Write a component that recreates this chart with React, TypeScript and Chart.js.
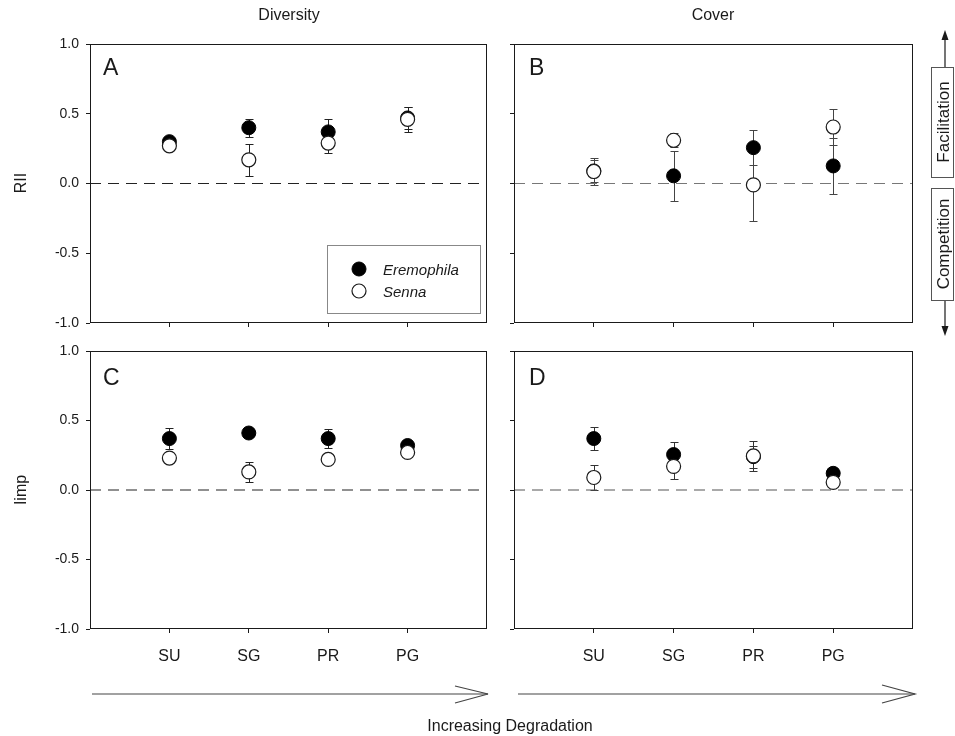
import React, { useEffect, useRef } from 'react';
import { Chart, registerables } from 'chart.js';
Chart.register(...registerables);

// ---------- data ----------
const categories = ['SU', 'SG', 'PR', 'PG'];
const yTickValues = [-1, -0.5, 0, 0.5, 1];

// Panel A: Diversity, RII
const divRiiEremophila = [0.30, 0.40, 0.37, 0.47];
const divRiiEremophilaSE = [0.02, 0.065, 0.09, 0.08];
const divRiiSenna = [0.27, 0.17, 0.29, 0.46];
const divRiiSennaSE = [0.02, 0.115, 0.07, 0.09];

// Panel B: Cover, RII
const covRiiEremophila = [0.09, 0.055, 0.257, 0.126];
const covRiiEremophilaSE = [0.08, 0.18, 0.125, 0.2];
const covRiiSenna = [0.086, 0.31, -0.01, 0.405];
const covRiiSennaSE = [0.1, 0.05, 0.26, 0.13];

// Panel C: Diversity, Iimp
const divIimpEremophila = [0.37, 0.41, 0.37, 0.32];
const divIimpEremophilaSE = [0.075, 0.02, 0.07, 0.02];
const divIimpSenna = [0.23, 0.13, 0.22, 0.27];
const divIimpSennaSE = [0.02, 0.075, 0.02, 0.02];

// Panel D: Cover, Iimp
const covIimpEremophila = [0.37, 0.255, 0.24, 0.12];
const covIimpEremophilaSE = [0.085, 0.09, 0.08, 0.02];
const covIimpSenna = [0.09, 0.17, 0.245, 0.055];
const covIimpSennaSE = [0.09, 0.09, 0.11, 0.02];

const FONT = 'Arial, "Liberation Sans", Helvetica, sans-serif';
const INK = '#1a1a1a';

const errorBarPlugin = {
  id: 'errorBars',
  beforeDatasetsDraw(chart: any) {
    const { ctx } = chart;
    const xs = chart.scales.x;
    const ys = chart.scales.y;
    ctx.save();
    chart.data.datasets.forEach((ds: any) => {
      const err = ds.errors;
      if (!err) return;
      ctx.strokeStyle = ds.errorColor || INK;
      ctx.lineWidth = 1;
      ds.data.forEach((p: any, i: number) => {
        const x = Math.round(xs.getPixelForValue(p.x)) + 0.5;
        const yT = Math.round(ys.getPixelForValue(p.y + err[i])) + 0.5;
        const yB = Math.round(ys.getPixelForValue(p.y - err[i])) + 0.5;
        ctx.beginPath();
        ctx.moveTo(x, yT);
        ctx.lineTo(x, yB);
        ctx.moveTo(x - 4, yT);
        ctx.lineTo(x + 4, yT);
        ctx.moveTo(x - 4, yB);
        ctx.lineTo(x + 4, yB);
        ctx.stroke();
      });
    });
    ctx.restore();
  },
};

const framePlugin = {
  id: 'frame',
  afterDraw(chart: any) {
    const { ctx, chartArea: a } = chart;
    ctx.save();
    ctx.strokeStyle = INK;
    ctx.lineWidth = 1;
    ctx.strokeRect(Math.round(a.left) + 0.5, Math.round(a.top) + 0.5, Math.round(a.right - a.left) - 1, Math.round(a.bottom - a.top) - 1);
    ctx.restore();
  },
};

type PanelProps = {
  areaLeft: number;
  areaTop: number;
  areaRight: number;
  areaBottom: number;
  showX: boolean;
  showY: boolean;
  erem: number[];
  eremSE: number[];
  senna: number[];
  sennaSE: number[];
  zeroColor: string;
  errColor: string;
};

const Y_W = 50;
const PAD_T = 22;
const PAD_R = 22;

function Panel(props: PanelProps) {
  const ref = useRef<HTMLCanvasElement>(null);
  const xH = props.showX ? 42 : 20;
  const left = props.areaLeft - Y_W;
  const top = props.areaTop - PAD_T;
  const width = props.areaRight - props.areaLeft + Y_W + PAD_R;
  const height = props.areaBottom - props.areaTop + PAD_T + xH;

  useEffect(() => {
    if (!ref.current) return;
    const toPts = (vals: number[]) => vals.map((v, i) => ({ x: i + 1, y: v }));
    const tickGrid = {
      display: true,
      drawOnChartArea: false,
      drawTicks: true,
      tickLength: 4,
      tickColor: INK,
      tickWidth: 1,
    };
    const chart = new Chart(ref.current, {
      type: 'scatter',
      data: {
        datasets: [
          {
            label: 'Senna',
            data: toPts(props.senna),
            errors: props.sennaSE,
            errorColor: props.errColor,
            pointRadius: 7,
            pointBackgroundColor: '#ffffff',
            pointBorderColor: INK,
            pointBorderWidth: 1.2,
            order: 0,
          } as any,
          {
            label: 'Eremophila',
            data: toPts(props.erem),
            errors: props.eremSE,
            errorColor: props.errColor,
            pointRadius: 7,
            pointBackgroundColor: '#000000',
            pointBorderColor: '#000000',
            pointBorderWidth: 1,
            order: 1,
          } as any,
          {
            label: 'zero',
            data: [
              { x: 0, y: 0 },
              { x: 5, y: 0 },
            ],
            showLine: true,
            borderColor: props.zeroColor,
            borderWidth: 1.2,
            borderDash: [11, 7],
            pointRadius: 0,
            order: 2,
          } as any,
        ],
      },
      options: {
        animation: false,
        responsive: false,
        devicePixelRatio: 1,
        events: [],
        layout: { padding: { top: PAD_T, right: PAD_R, left: 0, bottom: 0 } },
        plugins: { legend: { display: false }, tooltip: { enabled: false } },
        scales: {
          x: {
            type: 'linear',
            min: 0,
            max: 5,
            afterBuildTicks: (ax: any) => {
              ax.ticks = categories.map((_, i) => ({ value: i + 1 }));
            },
            afterFit: (s: any) => {
              s.height = xH;
            },
            grid: tickGrid,
            border: { display: false },
            ticks: {
              autoSkip: false,
              maxRotation: 0,
              padding: 14,
              color: INK,
              font: { size: 16, family: FONT },
              callback: (v: any) => (props.showX ? categories[Number(v) - 1] : ''),
            },
          },
          y: {
            type: 'linear',
            min: -1,
            max: 1,
            afterBuildTicks: (ax: any) => {
              ax.ticks = yTickValues.map((v) => ({ value: v }));
            },
            afterFit: (s: any) => {
              s.width = Y_W;
            },
            grid: tickGrid,
            border: { display: false },
            ticks: {
              padding: 7,
              color: INK,
              font: { size: 14, family: FONT },
              callback: (v: any) => (props.showY ? Number(v).toFixed(1) : ''),
            },
          },
        },
      } as any,
      plugins: [errorBarPlugin, framePlugin],
    });
    return () => chart.destroy();
  }, []);

  return (
    <canvas
      ref={ref}
      width={width}
      height={height}
      style={{ position: 'absolute', left, top, width, height }}
    />
  );
}

export default function App() {
  const txt = { fontFamily: FONT, fill: INK } as any;
  return (
    <div
      style={{
        position: 'fixed',
        left: 0,
        top: 0,
        width: 955,
        height: 736,
        background: '#ffffff',
        overflow: 'hidden',
      }}
    >
      <Panel areaLeft={90} areaTop={44} areaRight={487} areaBottom={323} showX={false} showY={true}
        erem={divRiiEremophila} eremSE={divRiiEremophilaSE} senna={divRiiSenna} sennaSE={divRiiSennaSE}
        zeroColor="#222222" errColor="#222222" />
      <Panel areaLeft={514} areaTop={44} areaRight={913} areaBottom={323} showX={false} showY={false}
        erem={covRiiEremophila} eremSE={covRiiEremophilaSE} senna={covRiiSenna} sennaSE={covRiiSennaSE}
        zeroColor="#777777" errColor="#444444" />
      <Panel areaLeft={90} areaTop={351} areaRight={487} areaBottom={629} showX={true} showY={true}
        erem={divIimpEremophila} eremSE={divIimpEremophilaSE} senna={divIimpSenna} sennaSE={divIimpSennaSE}
        zeroColor="#222222" errColor="#222222" />
      <Panel areaLeft={514} areaTop={351} areaRight={913} areaBottom={629} showX={true} showY={false}
        erem={covIimpEremophila} eremSE={covIimpEremophilaSE} senna={covIimpSenna} sennaSE={covIimpSennaSE}
        zeroColor="#555555" errColor="#333333" />

      <svg width={955} height={736} style={{ position: 'absolute', left: 0, top: 0, pointerEvents: 'none' }}>
        {/* column titles */}
        <text x={289} y={20} textAnchor="middle" fontSize={16} {...txt}>Diversity</text>
        <text x={713} y={20} textAnchor="middle" fontSize={16} {...txt}>Cover</text>

        {/* y-axis titles */}
        <text transform="translate(20,183) rotate(-90)" textAnchor="middle" dominantBaseline="central" fontSize={16} {...txt}>RII</text>
        <text transform="translate(20,490) rotate(-90)" textAnchor="middle" dominantBaseline="central" fontSize={16} {...txt}>Iimp</text>

        {/* panel letters */}
        <text x={103} y={75} fontSize={23} {...txt}>A</text>
        <text x={529} y={75} fontSize={23} {...txt}>B</text>
        <text x={103} y={385} fontSize={23} {...txt}>C</text>
        <text x={529} y={385} fontSize={23} {...txt}>D</text>

        {/* legend */}
        <rect x={327.5} y={245.5} width={153} height={68} fill="#ffffff" stroke="#888888" strokeWidth={1} />
        <circle cx={359} cy={269} r={7} fill="#000000" stroke="#000000" strokeWidth={1} />
        <circle cx={359} cy={291} r={7} fill="#ffffff" stroke={INK} strokeWidth={1.2} />
        <text x={383} y={269} dominantBaseline="central" fontSize={15} fontStyle="italic" {...txt}>Eremophila</text>
        <text x={383} y={291} dominantBaseline="central" fontSize={15} fontStyle="italic" {...txt}>Senna</text>

        {/* degradation arrows */}
        <g stroke="#444444" strokeWidth={1.2} fill="none">
          <line x1={92} y1={694} x2={488} y2={694} />
          <polyline points="455,686 488,694 455,703" />
          <line x1={518} y1={694} x2={915} y2={694} />
          <polyline points="882,685 915,694 882,703" />
        </g>
        <text x={510} y={731} textAnchor="middle" fontSize={16} {...txt}>Increasing Degradation</text>

        {/* facilitation / competition annotation */}
        <g stroke={INK} strokeWidth={1.2}>
          <line x1={945} y1={38} x2={945} y2={67} />
          <line x1={945} y1={301} x2={945} y2={327} />
        </g>
        <polygon points="945,30 941.5,40 948.5,40" fill={INK} />
        <polygon points="945,336 941.5,326 948.5,326" fill={INK} />
        <rect x={931.5} y={67.5} width={22} height={110} fill="#ffffff" stroke="#555555" strokeWidth={1} />
        <rect x={931.5} y={188.5} width={22} height={112} fill="#ffffff" stroke="#555555" strokeWidth={1} />
        <text transform="translate(943,122) rotate(-90)" textAnchor="middle" dominantBaseline="central" fontSize={17} {...txt}>Facilitation</text>
        <text transform="translate(943,244) rotate(-90)" textAnchor="middle" dominantBaseline="central" fontSize={17} {...txt}>Competition</text>
      </svg>
    </div>
  );
}
